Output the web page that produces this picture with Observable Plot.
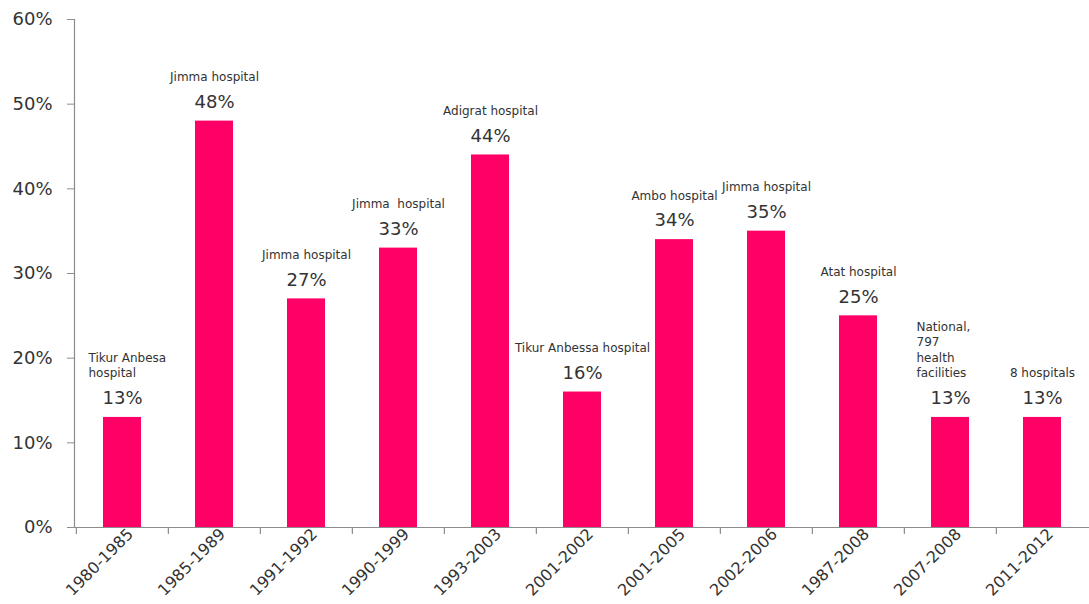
<!DOCTYPE html>
<html>
<head>
<meta charset="utf-8">
<script src="https://cdn.jsdelivr.net/npm/d3@7"></script>
<script src="https://cdn.jsdelivr.net/npm/@observablehq/plot@0.6"></script>
<style>
  html, body { margin: 0; padding: 0; background: #fff; }
  #chart svg { display: block; }
</style>
</head>
<body>
<div id="chart"></div>
<script>
const periods = ["1980-1985","1985-1989","1991-1992","1990-1999","1993-2003","2001-2002","2001-2005","2002-2006","1987-2008","2007-2008","2011-2012"];
const values = [13, 48, 27, 33, 44, 16, 34, 35, 25, 13, 13];
const sites = ["Tikur Anbesa\nhospital","Jimma hospital","Jimma hospital","Jimma  hospital","Adigrat hospital","Tikur Anbessa hospital","Ambo hospital","Jimma hospital","Atat hospital","National,\n797\nhealth\nfacilities","8 hospitals"];
const yTicks = [0, 10, 20, 30, 40, 50, 60];

const data = periods.map((p, i) => ({period: p, value: values[i], site: sites[i]}));

const W = 1089, H = 604;
const mL = 74, mR = 0, mT = 19, mB = 77;
const step = (W - mL - mR) / periods.length;
const font = "DejaVu Sans, Verdana, sans-serif";
const gray = "#8c8c8c";
const textColor = "#333333";
const multi = d => d.site.includes("\n");

const chart = Plot.plot({
  width: W,
  height: H,
  marginLeft: mL,
  marginRight: mR,
  marginTop: mT,
  marginBottom: mB,
  style: {fontFamily: font, background: "#fff", color: textColor},
  x: {domain: periods, paddingInner: 0.59, paddingOuter: 0.295, label: null},
  y: {domain: [0, 60], label: null},
  marks: [
    Plot.barY(data, {x: "period", y: "value", fill: "#FF0066"}),
    Plot.ruleY([0], {stroke: gray, strokeWidth: 1.2}),
    Plot.frame({anchor: "left", stroke: gray, strokeWidth: 1.2}),
    Plot.axisY({ticks: yTicks, tickFormat: d => d + "%", tickSize: 7, tickPadding: 15, fontSize: 18, stroke: gray, fill: textColor, label: null}),
    Plot.tickX(periods, {x: d => d, dx: -step / 2, stroke: gray, strokeWidth: 1.2, render: (index, scales, values, dims, ctx, next) => {
      const g = next(index, scales, values, dims, ctx);
      const y = dims.height - dims.marginBottom;
      d3.select(g).selectAll("line").attr("y1", y).attr("y2", y + 7);
      return g;
    }}),
    Plot.axisX({tickSize: 0, tickRotate: -45, fontSize: 16, tickPadding: 4, fill: textColor, label: null, dx: 8}),
    Plot.text(data, {x: "period", y: "value", text: d => d.value + "%", dy: -19, fontSize: 18, fill: textColor}),
    Plot.text(data, {filter: d => !multi(d), x: "period", y: "value", text: "site", dy: -40, lineAnchor: "bottom", fontSize: 12, fill: textColor}),
    Plot.text(data, {filter: multi, x: "period", y: "value", text: "site", dy: -40, dx: -34, textAnchor: "start", lineAnchor: "bottom", fontSize: 12, lineHeight: 1.3, fill: textColor})
  ]
});

document.getElementById("chart").appendChild(chart);
</script>
</body>
</html>
